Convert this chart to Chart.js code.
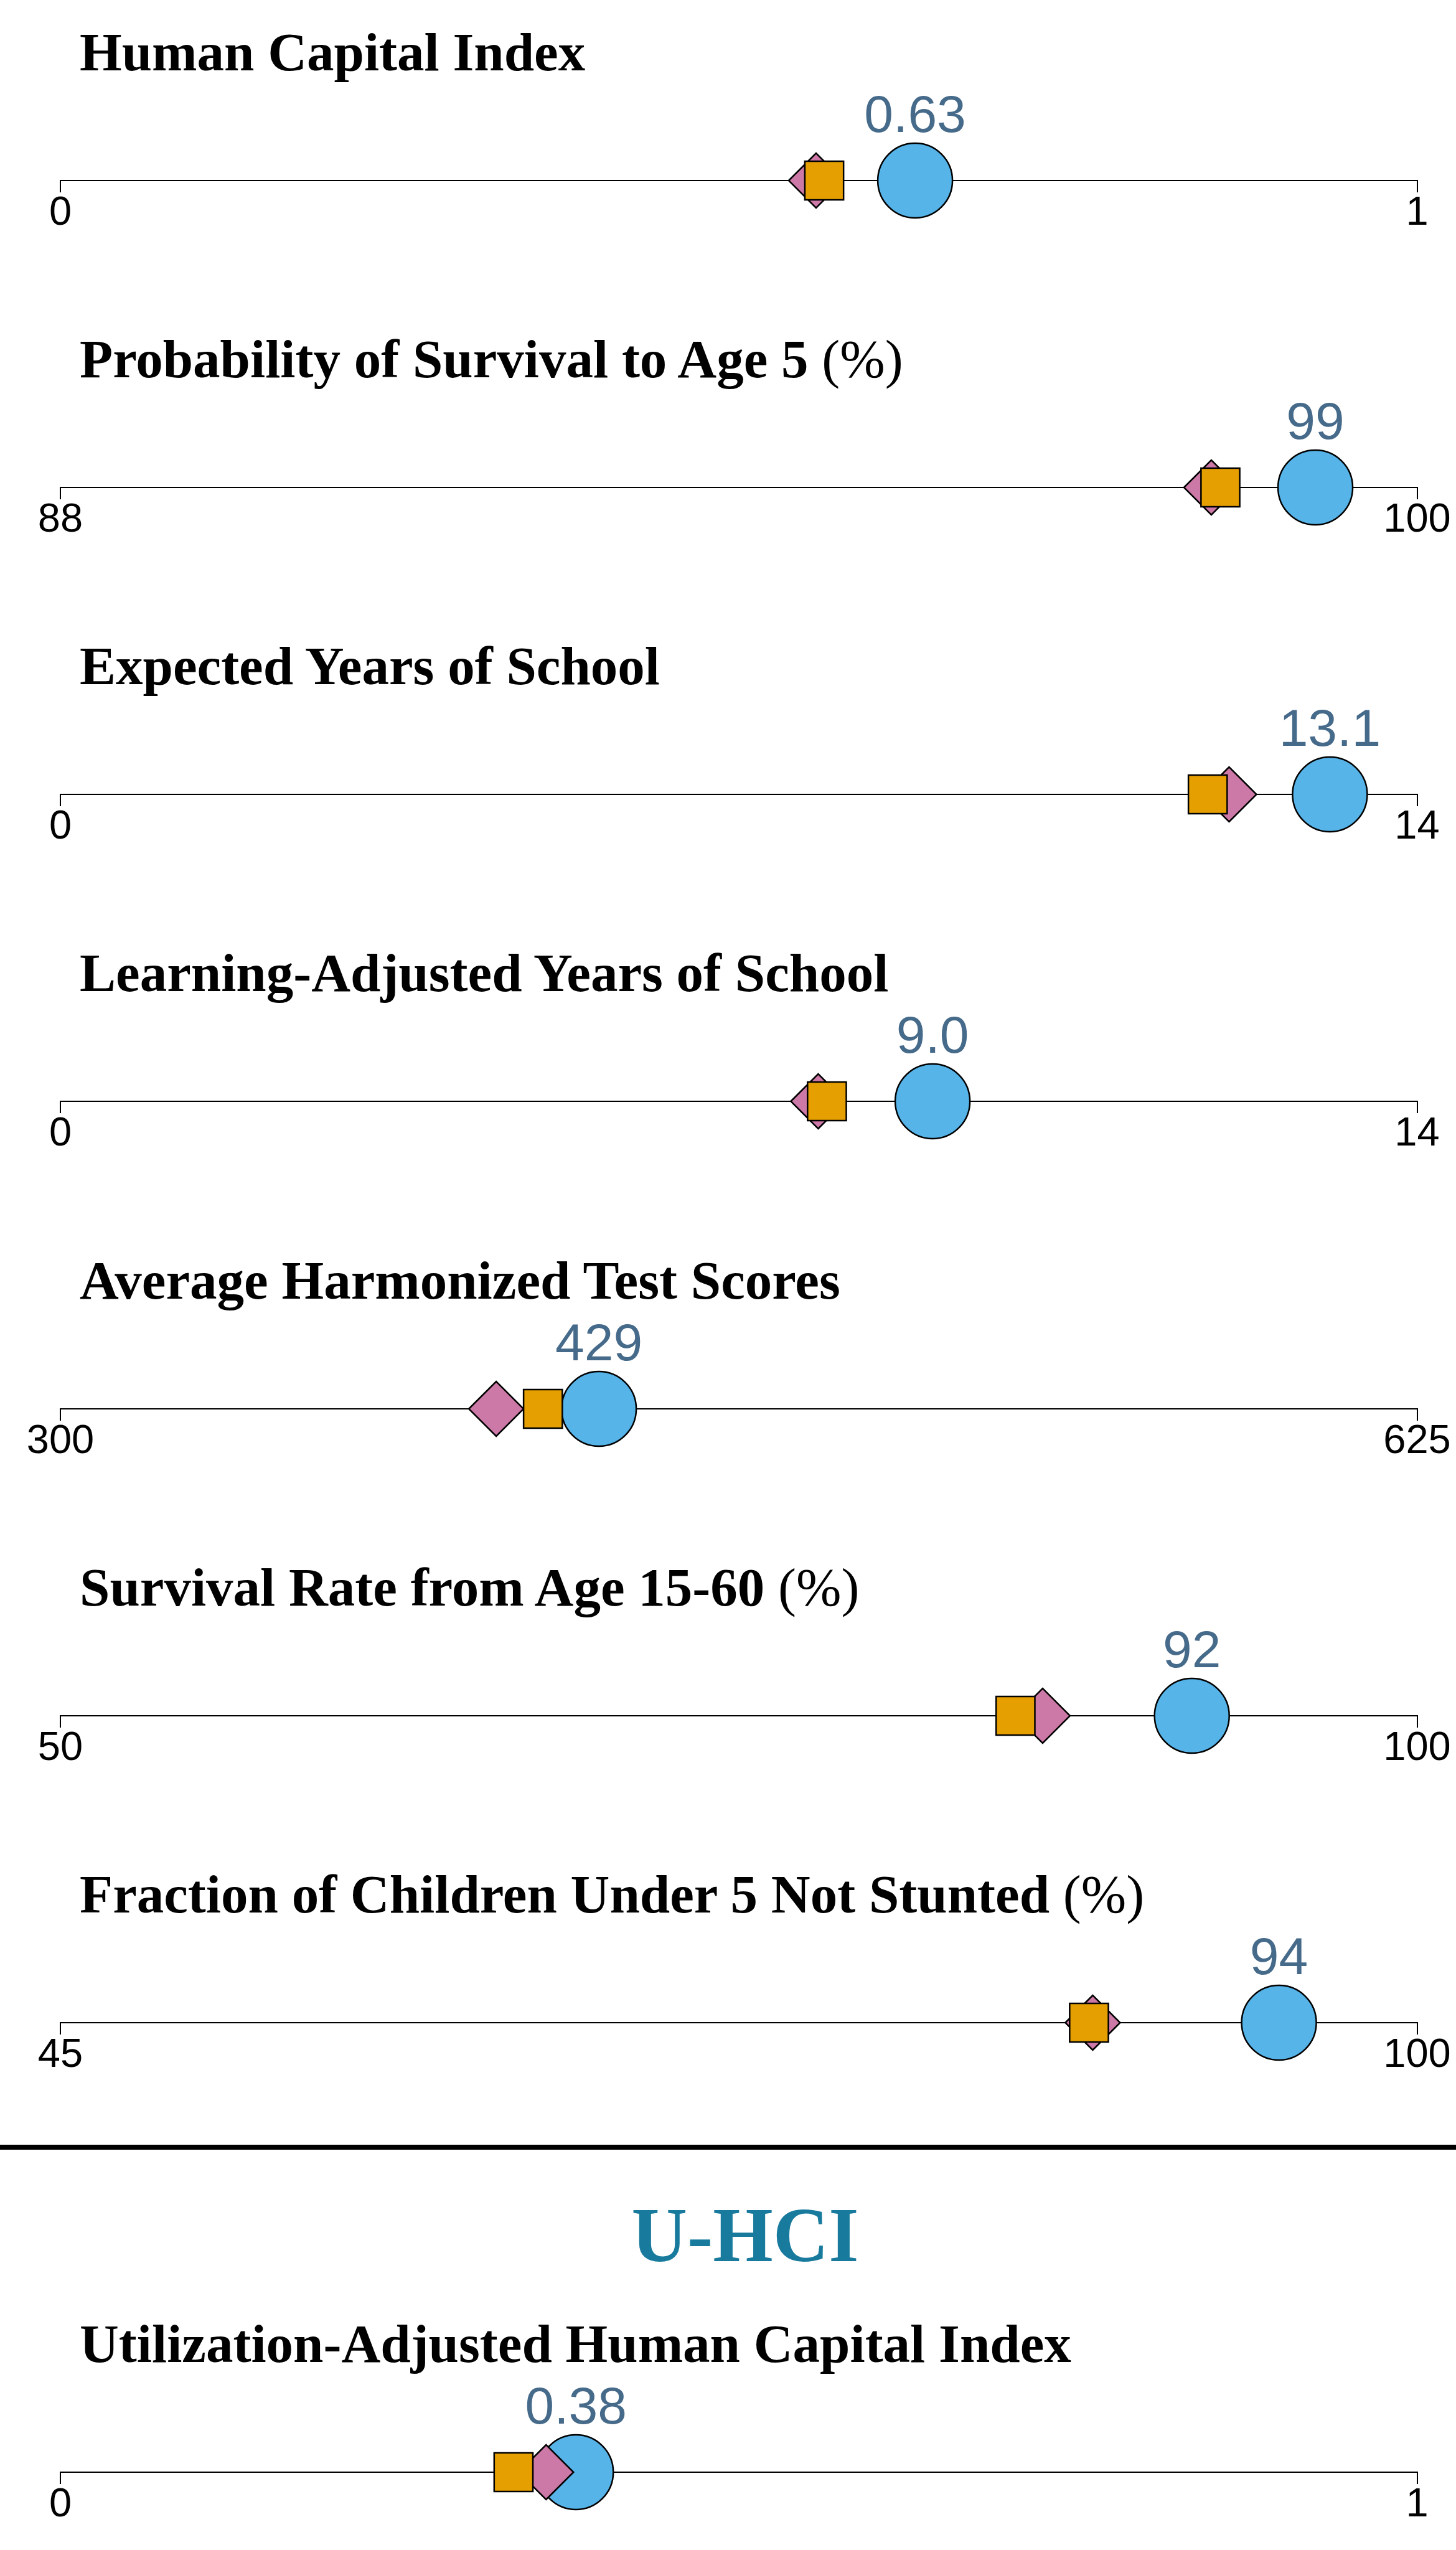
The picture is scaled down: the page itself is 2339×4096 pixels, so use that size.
<!DOCTYPE html>
<html>
<head>
<meta charset="utf-8">
<script src="https://cdn.jsdelivr.net/npm/chart.js@4.4.1/dist/chart.umd.min.js"></script>
<style>
  html, body { margin: 0; padding: 0; background: #fff; }
  body { width: 2339px; height: 4096px; position: relative; overflow: hidden; }
  .title { position: absolute; left: 128px; font: bold 87px "Liberation Serif", serif; line-height: 1; color: #000; white-space: nowrap; }
  .title span { font-weight: normal; }
  .panel { position: absolute; left: 0; width: 2339px; height: 300px; }
  #rule { position: absolute; left: 0; top: 3445px; width: 2339px; height: 8px; background: #000; }
  #uhci { position: absolute; left: 1197px; top: 3529px; transform: translateX(-50%); font: bold 124px "Liberation Serif", serif; line-height: 1; color: #187a9d; white-space: nowrap; }
</style>
</head>
<body>
<div id="rule"></div>
<div id="uhci">U-HCI</div>
<script>
// one row per indicator
const titles = [
  "Human Capital Index",
  "Probability of Survival to Age 5 (%)",
  "Expected Years of School",
  "Learning-Adjusted Years of School",
  "Average Harmonized Test Scores",
  "Survival Rate from Age 15-60 (%)",
  "Fraction of Children Under 5 Not Stunted (%)",
  "Utilization-Adjusted Human Capital Index"
];
const axisMin = [0, 88, 0, 0, 300, 50, 45, 0];
const axisMax = [1, 100, 14, 14, 625, 100, 100, 1];

// blue circles (country) and their printed values
const country = [0.63, 99.1, 13.1, 9.0, 429, 91.7, 94.4, 0.38];
const countryLabels = ["0.63", "99", "13.1", "9.0", "429", "92", "94", "0.38"];
// orange squares and pink diamonds (comparison groups)
const squares = [0.563, 98.26, 11.84, 7.91, 415.6, 85.2, 86.7, 0.334];
const diamonds = [0.557, 98.18, 12.06, 7.82, 404.4, 86.2, 86.85, 0.358];

// layout: pixel row of each axis line
const axisY = [290, 783, 1276, 1769, 2263, 2756, 3249, 3971];
const HALF = 150;

const sans = "'Liberation Sans', Arial, sans-serif";

function valueLabel(text) {
  return {
    id: "valueLabel",
    afterDraw(chart) {
      const pt = chart.getDatasetMeta(2).data[0];
      const c = chart.ctx;
      c.save();
      c.font = "84px " + sans;
      c.fillStyle = "#466a8a";
      c.textAlign = "center";
      c.textBaseline = "alphabetic";
      c.fillText(text, pt.x, pt.y - 78);
      c.restore();
    }
  };
}

titles.forEach((t, i) => {
  const title = document.createElement("div");
  title.className = "title";
  const pct = t.endsWith(" (%)");
  title.textContent = pct ? t.slice(0, -4) + " " : t;
  if (pct) {
    const s = document.createElement("span");
    s.textContent = "(%)";
    title.appendChild(s);
  }
  title.style.top = (axisY[i] - 177 - 73) + "px";
  document.body.appendChild(title);

  const box = document.createElement("div");
  box.className = "panel";
  box.style.top = (axisY[i] - HALF) + "px";
  const canvas = document.createElement("canvas");
  box.appendChild(canvas);
  document.body.appendChild(box);

  const min = axisMin[i], max = axisMax[i];
  new Chart(canvas, {
    type: "scatter",
    data: {
      datasets: [
        { label: "square", data: [{ x: squares[i], y: 0 }], pointStyle: "rect", pointRadius: 44, pointHoverRadius: 44,
          backgroundColor: "#E69F00", borderColor: "#000", borderWidth: 2.5, clip: false },
        { label: "diamond", data: [{ x: diamonds[i], y: 0 }], pointStyle: "rectRot", pointRadius: 44, pointHoverRadius: 44,
          backgroundColor: "#CC79A7", borderColor: "#000", borderWidth: 2.5, clip: false },
        { label: "country", data: [{ x: country[i], y: 0 }], pointStyle: "circle", pointRadius: 60, pointHoverRadius: 60,
          backgroundColor: "#56B4E9", borderColor: "#000", borderWidth: 2.5, clip: false }
      ]
    },
    options: {
      responsive: true,
      maintainAspectRatio: false,
      animation: false,
      events: [],
      layout: { padding: { left: 97, right: 60, top: 0, bottom: 0 } },
      plugins: { legend: { display: false }, tooltip: { enabled: false } },
      scales: {
        x: {
          type: "linear", min: min, max: max,
          position: { y: 0 },
          z: 1,
          afterBuildTicks: s => { s.ticks = [{ value: min }, { value: max }]; },
          grid: { display: true, drawOnChartArea: false, drawTicks: true, tickLength: 18, color: "#000", lineWidth: 2 },
          border: { display: true, color: "#000", width: 2 },
          ticks: { color: "#000", font: { family: sans, size: 65, lineHeight: 1 }, padding: 3, maxRotation: 0, autoSkip: false }
        },
        y: { min: -1, max: 1, display: false }
      }
    },
    plugins: [valueLabel(countryLabels[i])]
  });
});
</script>
</body>
</html>
